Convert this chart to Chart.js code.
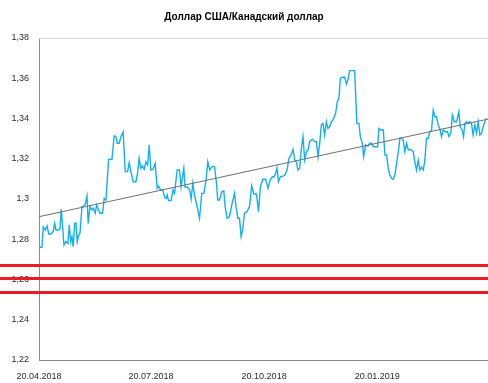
<!DOCTYPE html>
<html>
<head>
<meta charset="utf-8">
<script src="https://cdn.jsdelivr.net/npm/chart.js@4.4.1/dist/chart.umd.min.js"></script>
<style>
  body { margin: 0; background: #fff; }
  canvas { display: block; }
</style>
</head>
<body>
<canvas id="myChart" width="488" height="383"></canvas>
<script>
// USD/CAD: days counted from 20.04.2018 and the rate on that day
var days = [
  0, 2.4, 3.5, 5.1, 6.5, 7.9, 9.7, 11.6, 12.7, 13.8, 16.0, 17.1, 18.1, 19.2, 20.3, 21.9, 23.5, 24.6, 25.7, 26.8,
  27.8, 29.0, 30.0, 31.1, 32.2, 33.3, 34.9, 36.0, 37.6, 39.0, 40.0, 41.4, 43.0, 44.1, 45.7, 46.8, 48.5, 49.5, 51.7, 53.0,
  54.4, 56.6, 59.3, 61.1, 62.5, 63.6, 65.2, 66.6, 68.4, 70.1, 72.0, 73.3, 74.7, 76.6, 78.8, 80.1, 81.4, 82.8, 84.2, 85.5,
  86.9, 88.3, 89.6, 90.9, 92.8, 94.4, 96.1, 97.2, 98.8, 100.7, 102.1, 103.4, 104.2, 105.3, 107.4, 109.0, 110.2, 112.3, 114.2, 115.5,
  116.7, 117.7, 118.8, 120.4, 122.4, 123.7, 125.0, 126.4, 128.5, 130.5, 132.3, 134.0, 135.8, 137.2, 138.8, 140.5, 142.7, 144.3, 145.3, 146.7,
  148.6, 150.2, 151.3, 152.9, 154.8, 156.7, 158.9, 160.2, 161.6, 163.0, 164.3, 165.6, 167.0, 169.1, 171.1, 172.9, 174.6, 176.8, 178.4, 180.0,
  181.9, 184.3, 186.2, 188.0, 189.7, 190.8, 192.4, 193.5, 194.6, 196.3, 198.4, 200.0, 201.6, 203.2, 204.9, 206.5, 207.9, 209.2, 210.5, 211.9,
  213.3, 214.6, 216.0, 217.4, 218.7, 220.0, 222.2, 224.1, 225.5, 226.8, 228.2, 229.5, 230.9, 232.2, 233.6, 234.9, 236.3, 237.7, 239.0, 241.1,
  242.5, 243.8, 245.0, 246.6, 248.5, 249.9, 251.1, 252.5, 255.2, 256.6, 258.4, 260.1, 261.2, 262.8, 263.9, 265.5, 267.4, 268.8, 270.4, 271.8,
  273.6, 275.3, 276.3, 277.9, 279.9, 281.2, 282.6, 283.9, 285.2, 286.6, 288.0, 289.3, 290.7, 292.1, 293.4, 294.7, 296.1, 297.4, 298.8, 300.2,
  301.5, 302.9, 304.2, 305.5, 306.9, 308.3, 309.6, 311.0, 312.4, 313.7, 315.0, 316.4, 317.7, 319.1, 320.5, 321.8, 323.2, 324.5, 325.8, 327.2,
  328.6, 330.4, 332.1, 333.2, 334.8, 336.0, 337.6, 339.5, 341.3, 342.4, 344.0, 345.1, 346.2, 347.5, 348.9, 350.2, 351.6, 352.9, 354.3, 355.7,
  357.0, 358.4, 359.7, 361.1, 362.4, 363.8
];
var rates = [
  1.2760, 1.2760, 1.2862, 1.2846, 1.2867, 1.2826, 1.2826, 1.2838, 1.2879, 1.2846, 1.2846, 1.2854, 1.2949, 1.2862, 1.2771, 1.2788, 1.2780, 1.2871, 1.2788, 1.2813,
  1.2763, 1.2879, 1.2882, 1.2788, 1.2821, 1.2830, 1.2962, 1.2962, 1.2975, 1.3015, 1.2879, 1.2962, 1.2945, 1.2954, 1.2929, 1.2970, 1.2945, 1.2929, 1.2929, 1.3003,
  1.2995, 1.3197, 1.3197, 1.3313, 1.3310, 1.3277, 1.3277, 1.3310, 1.3334, 1.3136, 1.3136, 1.3180, 1.3136, 1.3086, 1.3086, 1.3128, 1.3202, 1.3153, 1.3164, 1.3148,
  1.3185, 1.3169, 1.3268, 1.3144, 1.3148, 1.3177, 1.3053, 1.3065, 1.3045, 1.3045, 1.3008, 1.3003, 1.3020, 1.2992, 1.2992, 1.3045, 1.3028, 1.3144, 1.3144, 1.3061,
  1.3111, 1.3153, 1.3058, 1.3061, 1.3045, 1.2999, 1.3078, 1.3020, 1.2962, 1.2904, 1.3028, 1.3028, 1.3094, 1.3185, 1.3144, 1.3161, 1.3161, 1.3078, 1.2995, 1.2995,
  1.3036, 1.3041, 1.2962, 1.2904, 1.2912, 1.2970, 1.3028, 1.2962, 1.2904, 1.2904, 1.2813, 1.2846, 1.2929, 1.2937, 1.2962, 1.3065, 1.3025, 1.3025, 1.2937, 1.3061,
  1.3098, 1.3098, 1.3053, 1.3094, 1.3111, 1.3108, 1.3128, 1.3153, 1.3086, 1.3111, 1.3114, 1.3119, 1.3144, 1.3202, 1.3219, 1.3247, 1.3194, 1.3185, 1.3144, 1.3153,
  1.3252, 1.3310, 1.3194, 1.3235, 1.3243, 1.3285, 1.3297, 1.3285, 1.3285, 1.3210, 1.3277, 1.3368, 1.3376, 1.3318, 1.3384, 1.3351, 1.3359, 1.3384, 1.3393, 1.3426,
  1.3483, 1.3500, 1.3600, 1.3605, 1.3605, 1.3571, 1.3591, 1.3638, 1.3638, 1.3638, 1.3376, 1.3376, 1.3310, 1.3277, 1.3210, 1.3268, 1.3263, 1.3277, 1.3277, 1.3260,
  1.3260, 1.3260, 1.3351, 1.3343, 1.3343, 1.3219, 1.3219, 1.3153, 1.3119, 1.3103, 1.3098, 1.3119, 1.3177, 1.3235, 1.3302, 1.3302, 1.3293, 1.3235, 1.3277, 1.3243,
  1.3247, 1.3243, 1.3235, 1.3185, 1.3144, 1.3194, 1.3144, 1.3158, 1.3144, 1.3194, 1.3302, 1.3302, 1.3334, 1.3343, 1.3442, 1.3409, 1.3409, 1.3368, 1.3351, 1.3310,
  1.3343, 1.3334, 1.3334, 1.3310, 1.3326, 1.3417, 1.3384, 1.3384, 1.3434, 1.3359, 1.3343, 1.3310, 1.3376, 1.3384, 1.3376, 1.3384, 1.3376, 1.3318, 1.3368, 1.3326,
  1.3384, 1.3318, 1.3326, 1.3359, 1.3384, 1.3401
];

// linear trend, start and end of the year
var trendDays = [0, 365];
var trendRates = [1.2912, 1.3397];

// horizontal support levels
var redLevels = [1.2672, 1.2605, 1.2538];

var xTickDays = [0, 91, 183, 275];
var xTickLabels = ['20.04.2018', '20.07.2018', '20.10.2018', '20.01.2019'];
var yTickLabels = ['1,22', '1,24', '1,26', '1,28', '1,3', '1,32', '1,34', '1,36', '1,38'];

var linePoints = [];
for (var i = 0; i < days.length; i++) {
  linePoints.push({ x: days[i], y: rates[i] });
}
var trendPoints = [];
for (var j = 0; j < trendDays.length; j++) {
  trendPoints.push({ x: trendDays[j], y: trendRates[j] });
}

Chart.defaults.font.family = '"Liberation Sans", Arial, sans-serif';
Chart.defaults.font.size = 9;
Chart.defaults.color = '#2b2b2b';

// top frame line and the red levels across the whole picture
var extras = {
  id: 'extras',
  beforeDatasetsDraw: function (chart) {
    var ctx = chart.ctx;
    var area = chart.chartArea;
    ctx.save();
    ctx.strokeStyle = '#d9d9d9';
    ctx.lineWidth = 1;
    ctx.beginPath();
    ctx.moveTo(area.left, area.top + 0.5);
    ctx.lineTo(area.right, area.top + 0.5);
    ctx.stroke();
    ctx.restore();
  },
  afterDraw: function (chart) {
    var ctx = chart.ctx;
    var yScale = chart.scales.y;
    ctx.save();
    ctx.strokeStyle = 'rgb(236, 28, 36)';
    ctx.lineWidth = 3;
    for (var k = 0; k < redLevels.length; k++) {
      var py = Math.round(yScale.getPixelForValue(redLevels[k])) + 0.5;
      ctx.beginPath();
      ctx.moveTo(0, py);
      ctx.lineTo(chart.width, py);
      ctx.stroke();
    }
    ctx.restore();
  }
};

var ctx = document.getElementById('myChart').getContext('2d');
var myChart = new Chart(ctx, {
  type: 'line',
  data: {
    datasets: [{
      label: 'Тренд',
      data: trendPoints,
      borderColor: '#6f6f6f',
      borderWidth: 1,
      pointRadius: 0,
      order: 0
    }, {
      label: 'Доллар США/Канадский доллар',
      data: linePoints,
      borderColor: '#12b0f0',
      borderWidth: 1.4,
      pointRadius: 0,
      tension: 0,
      order: 1
    }]
  },
  options: {
    responsive: false,
    animation: false,
    devicePixelRatio: 1,
    layout: { padding: 0 },
    plugins: {
      legend: { display: false },
      tooltip: { enabled: false },
      title: {
        display: true,
        text: 'Доллар США/Канадский доллар',
        color: '#000',
        font: { size: 10, weight: 'bold' },
        padding: { top: 11, bottom: 15 }
      }
    },
    scales: {
      x: {
        type: 'linear',
        min: 0,
        max: 365,
        grid: { display: false, drawTicks: false },
        border: { color: '#8c8c8c', width: 1 },
        afterBuildTicks: function (scale) {
          scale.ticks = xTickDays.map(function (d) { return { value: d }; });
        },
        afterFit: function (scale) { scale.height = 23; },
        ticks: {
          padding: 11,
          maxRotation: 0,
          autoSkip: false,
          callback: function (value, index) { return xTickLabels[index]; }
        }
      },
      y: {
        min: 1.22,
        max: 1.38,
        grid: { display: false, drawTicks: false },
        border: { color: '#8c8c8c', width: 1 },
        afterBuildTicks: function (scale) {
          scale.ticks = yTickLabels.map(function (t) { return { value: parseFloat(t.replace(',', '.')) }; });
        },
        afterFit: function (scale) { scale.width = 39; },
        ticks: {
          padding: 10,
          callback: function (value, index) { return yTickLabels[index]; }
        }
      }
    }
  },
  plugins: [extras]
});
</script>
</body>
</html>
